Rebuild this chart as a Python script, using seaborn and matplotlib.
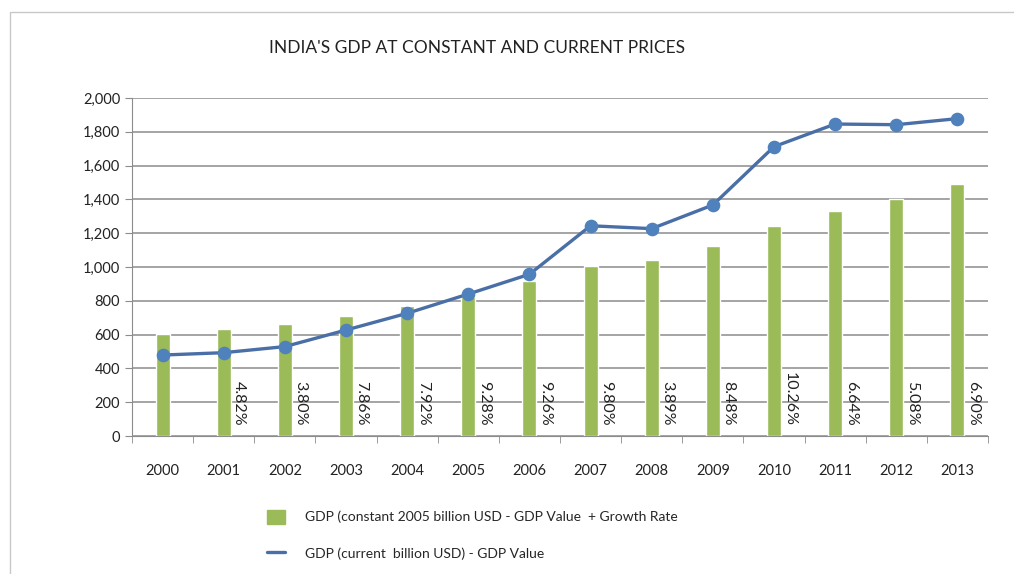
import numpy as np
import pandas as pd
import matplotlib
matplotlib.use("Agg")
import matplotlib.pyplot as plt
from matplotlib.patches import Rectangle
from matplotlib.lines import Line2D
from matplotlib.ticker import FuncFormatter, FixedLocator
import seaborn as sns

years = ['2000', '2001', '2002', '2003', '2004', '2005', '2006',
         '2007', '2008', '2009', '2010', '2011', '2012', '2013']
gdp_constant = [602, 633, 661, 712, 769, 824, 917,
                1006, 1040, 1126, 1244, 1329, 1404, 1491]
gdp_current = [479, 493, 529, 627, 726, 840, 957,
               1244, 1227, 1367, 1712, 1846, 1842, 1878]
growth_rate = ['', '4.82%', '3.80%', '7.86%', '7.92%', '9.28%', '9.26%',
               '9.80%', '3.89%', '8.48%', '10.26%', '6.64%', '5.08%', '6.90%']

bar_label = 'GDP (constant 2005 billion USD - GDP Value  + Growth Rate'
line_label = 'GDP (current  billion USD) - GDP Value'

df = pd.DataFrame({'Year': years, 'Constant': gdp_constant,
                   'Current': gdp_current, 'Growth': growth_rate})

sns.set_style("white")
plt.rcParams['font.family'] = ['Lato', 'DejaVu Sans']

fig = plt.figure(figsize=(10.14, 5.74), dpi=100)
ax = fig.add_axes([132 / 1014, 1 - 436 / 574, 856 / 1014, 338 / 574])

# light frame of the chart area
fig.patches.append(Rectangle((10 / 1014, -0.02), 1.1, 1 - 12 / 574 + 0.02,
                             transform=fig.transFigure, fill=False,
                             edgecolor='#c8c8c8', linewidth=1))

sns.barplot(data=df, x='Year', y='Constant', color='#9bbb59',
            saturation=1, width=0.23, ax=ax, zorder=2)
sns.pointplot(data=df, x='Year', y='Current', color='#4a6ea6',
              markers='o', markersize=8, linewidth=2.4, ax=ax, zorder=3)
for ln in ax.lines:
    ln.set_markerfacecolor('#4f81bd')
    ln.set_markeredgecolor('#4f81bd')

for i, row in df.iterrows():
    if row['Growth']:
        ax.text(i + 0.14, 62, row['Growth'], rotation=270,
                ha='left', va='bottom', fontsize=11.5, color='#222222',
                zorder=4)

ax.set_ylim(0, 2000)
ax.set_xlim(-0.5, 13.5)
ax.set_yticks(range(0, 2001, 200))
ax.yaxis.set_major_formatter(FuncFormatter(lambda v, p: f'{int(v):,}'))
ax.yaxis.grid(True, color='#8c8c8c', linewidth=1.1, zorder=0)
ax.set_axisbelow(True)
ax.set_xlabel('')
ax.set_ylabel('')

for s in ['top', 'right']:
    ax.spines[s].set_visible(False)
ax.spines['left'].set_color('#8c8c8c')
ax.spines['bottom'].set_color('#8c8c8c')

ax.tick_params(axis='x', which='major', length=0, pad=20, labelsize=10.5,
               colors='#222222')
ax.xaxis.set_minor_locator(FixedLocator(np.arange(-0.5, 14, 1)))
ax.tick_params(axis='x', which='minor', length=5, color='#8c8c8c',
               direction='out', bottom=True)
ax.tick_params(axis='y', length=5, color='#8c8c8c', direction='out',
               left=True, labelsize=10.5, labelcolor='#222222')

fig.text(477 / 1014, 1 - 48 / 574, "INDIA'S GDP AT CONSTANT AND CURRENT PRICES",
         ha='center', va='center', fontsize=12.5, color='#222222')

handles = [Rectangle((0, 0), 1, 1, color='#9bbb59'),
           Line2D([0], [0], color='#4a6ea6', linewidth=2.4)]
fig.legend(handles, [bar_label, line_label], loc='upper left',
           bbox_to_anchor=(254 / 1014, 1 - 497 / 574), frameon=False,
           fontsize=10, labelspacing=1.6, handlelength=1.3,
           handleheight=1.2, handletextpad=1.5)

fig.savefig('out.png', dpi=100)
